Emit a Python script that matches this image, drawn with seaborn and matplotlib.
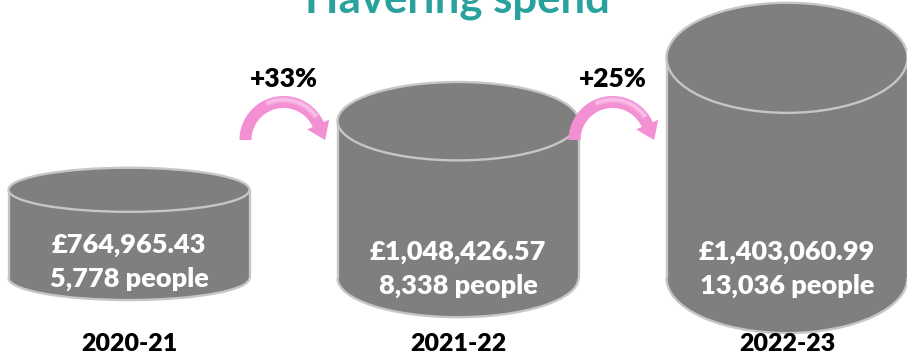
import matplotlib
matplotlib.use("Agg")
import numpy as np
import pandas as pd
import matplotlib.pyplot as plt
import seaborn as sns
from matplotlib.patches import Ellipse, Arc, Polygon

# Spend and reach per financial year
years = ["2020-21", "2021-22", "2022-23"]
spend = [764965.43, 1048426.57, 1403060.99]
people = [5778, 8338, 13036]
growth = ["+33%", "+25%"]
title = "Havering spend"

# Canvas and styling
W, H = 907, 361
GREY = "#7F7F7F"
RIM = "#C6C6C6"
PINK = "#F38FD3"
PINK_HI = "#FCD3F0"
TEAL = "#29A19C"
BASE_PX = 278                 # base line of the cans, pixels from the top
Y_RANGE = (510_000, 1_830_000)
X_RANGE = (-0.3921, 2.3647)
BAR_W = 0.7325
DEPTH = 0.25                  # ellipse half-height relative to body height
WEIGHT = "heavy"

sns.set_theme(style="white")
plt.rcParams["font.family"] = ["Lato", "DejaVu Sans"]

fig = plt.figure(figsize=(W / 100, H / 100), dpi=100)
fig.patch.set_facecolor("white")

# Can bodies: one bar per year on a log value axis
ax = fig.add_axes([0, 1 - BASE_PX / H, 1, BASE_PX / H])
df = pd.DataFrame({"year": years, "spend": spend})
sns.barplot(data=df, x="year", y="spend", ax=ax, color=GREY, saturation=1,
            width=BAR_W, linewidth=0)
ax.set_yscale("log")
ax.set_xlim(*X_RANGE)
ax.set_ylim(*Y_RANGE)
ax.axis("off")

# Overlay in pixel units for the can rims, arrows and labels
deco = fig.add_axes([0, 0, 1, 1], zorder=5)
deco.set_xlim(0, W)
deco.set_ylim(H, 0)
deco.axis("off")
deco.patch.set_alpha(0)


def to_px(x, y):
    dx, dy = ax.transData.transform((x, y))
    return dx, H - dy


bold = dict(fontweight=WEIGHT, ha="center", va="center")
edges = []
for i, (yr, v, n) in enumerate(zip(years, spend, people)):
    xl, top = to_px(i - BAR_W / 2, v)
    xr, _ = to_px(i + BAR_W / 2, v)
    _, base = to_px(i, Y_RANGE[0])
    cx, w = (xl + xr) / 2, xr - xl
    d = DEPTH * (base - top)
    edges.append((xl, xr))

    # bottom of the can
    deco.add_patch(Ellipse((cx, base), w, 2 * d, facecolor=GREY,
                           edgecolor="none", zorder=1))
    deco.add_patch(Arc((cx, base), w, 2 * d, theta1=0, theta2=180,
                       color=RIM, lw=1.7, zorder=2))
    # sides
    for xs in (xl, xr):
        deco.plot([xs, xs], [top, base], color=RIM, lw=1.7, zorder=2,
                  solid_capstyle="butt")
    # lid
    deco.add_patch(Ellipse((cx, top), w, 2 * d, facecolor=GREY,
                           edgecolor=RIM, lw=1.7, zorder=3))

    low = base + d
    y2 = min(base + 8, low - 21)
    deco.text(cx, y2, f"{n:,} people", color="white", fontsize=19.5, zorder=4, **bold)
    deco.text(cx, y2 - 34, f"£{v:,.2f}", color="white", fontsize=19.5, zorder=4, **bold)
    deco.text(cx, 344, yr, color="black", fontsize=18, zorder=4, **bold)


def curved_arrow(cx, cy, r_in=32, r_out=44, start=180, end=24,
                 head_len=17, head_half=12):
    t = np.radians(np.linspace(start, end, 80))
    outer = np.column_stack([cx + r_out * np.cos(t), cy - r_out * np.sin(t)])
    inner = np.column_stack([cx + r_in * np.cos(t[::-1]), cy - r_in * np.sin(t[::-1])])
    te = np.radians(end)
    rm = (r_in + r_out) / 2
    ex, ey = cx + rm * np.cos(te), cy - rm * np.sin(te)
    tip = (ex + head_len * np.sin(te), ey + head_len * np.cos(te))
    h_out = (cx + (rm + head_half) * np.cos(te), cy - (rm + head_half) * np.sin(te))
    h_in = (cx + (rm - head_half) * np.cos(te), cy - (rm - head_half) * np.sin(te))
    pts = np.vstack([outer, [h_out, tip, h_in], inner])
    deco.add_patch(Polygon(pts, closed=True, facecolor=PINK, edgecolor="none", zorder=3))
    # soft sheen along the upper right of the band
    t2 = np.radians(np.linspace(115, 35, 50))
    for a, b, alpha in ((rm - 1, rm + 5, 0.35), (rm + 1, rm + 3.5, 0.6)):
        band = np.vstack([
            np.column_stack([cx + b * np.cos(t2), cy - b * np.sin(t2)]),
            np.column_stack([cx + a * np.cos(t2[::-1]), cy - a * np.sin(t2[::-1])]),
        ])
        deco.add_patch(Polygon(band, closed=True, facecolor=PINK_HI, edgecolor="none",
                               alpha=alpha, zorder=3))


for j, g in enumerate(growth):
    gap_mid = (edges[j][1] + edges[j + 1][0]) / 2
    acx = gap_mid - 10
    curved_arrow(acx, 140)
    deco.text(acx, 79, g, color="black", fontsize=19, zorder=4, **bold)

fig.text(457 / W, 1 - 12 / H, title, color=TEAL, fontsize=31.5,
         fontweight="bold", ha="center", va="baseline")

fig.savefig("out.png", dpi=100, facecolor="white")
